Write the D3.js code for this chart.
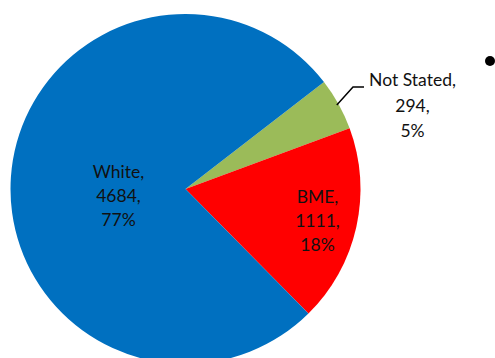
<!DOCTYPE html>
<html lang="en">
<head>
<meta charset="UTF-8">
<script src="https://d3js.org/d3.v7.min.js"></script>
<style>
  body { margin: 0; background: #fff; }
  #plot { position: absolute; width: 495px; height: 358px; }
</style>
</head>
<body>
<div id="plot"></div>
<script>
  // data (clockwise order as drawn)
  const groups = ["Not Stated", "BME", "White"];
  const counts = [294, 1111, 4684];
  const percents = ["5%", "18%", "77%"];
  const colors = ["#9BBB59", "#FF0000", "#0070C0"];

  const width = 495, height = 358;
  const cx = 185.5, cy = 189, radius = 175;

  const svg = d3.select("#plot")
    .append("svg")
      .attr("width", width)
      .attr("height", height);

  const g = svg.append("g")
    .attr("transform", `translate(${cx},${cy})`);

  const data = groups.map((d, i) => ({name: d, value: counts[i], pct: percents[i], color: colors[i]}));

  const start = 52.3 * Math.PI / 180;
  const pie = d3.pie()
    .sort(null)
    .value(d => d.value)
    .startAngle(start)
    .endAngle(start + 2 * Math.PI);

  const arc = d3.arc().innerRadius(0).outerRadius(radius);
  const arcs = pie(data);

  g.selectAll("path")
    .data(arcs)
    .join("path")
      .attr("d", arc)
      .attr("fill", d => d.data.color);

  // label positions (relative to centre), Excel puts them inside except the small slice
  const labelPos = {
    "White": [-67, -17],
    "BME": [132, 8],
    "Not Stated": [227, -109]
  };
  const lineH = 24;

  arcs.forEach(a => {
    const p = labelPos[a.data.name];
    const lines = [a.data.name + ",", a.data.value + ",", a.data.pct];
    const t = g.append("text")
      .attr("text-anchor", "middle")
      .attr("font-family", "Lato, 'Open Sans', sans-serif")
      .attr("font-size", "17.5px")
      .attr("fill", "#111");
    lines.forEach((s, i) => {
      t.append("tspan")
        .attr("x", p[0])
        .attr("y", p[1] + i * lineH + (a.data.name === "Not Stated" ? i * 1.5 : 0))
        .attr("dy", "0.35em")
        .text(s);
    });
  });

  // leader line for Not Stated
  const ns = arcs[0];
  const mid = (ns.startAngle + ns.endAngle) / 2;
  const r0 = radius - 2;
  const p0 = [Math.sin(mid) * r0, -Math.cos(mid) * r0];
  g.append("polyline")
    .attr("points", [p0, [167.5, -102], [178.5, -102]].map(p => p.join(",")).join(" "))
    .attr("fill", "none")
    .attr("stroke", "#000")
    .attr("stroke-width", 1.5);

  // stray bullet at right
  svg.append("circle")
    .attr("cx", 490)
    .attr("cy", 61)
    .attr("r", 5)
    .attr("fill", "#000");
</script>
</body>
</html>
